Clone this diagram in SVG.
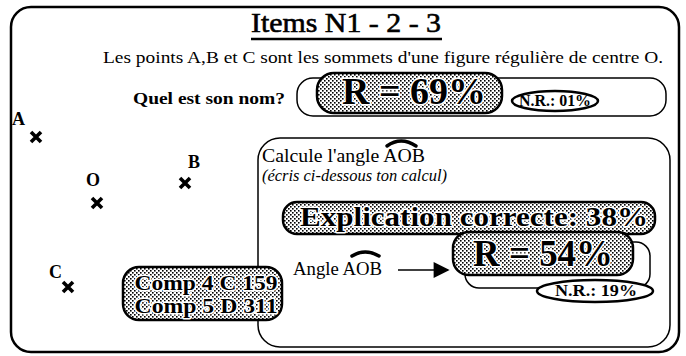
<svg xmlns="http://www.w3.org/2000/svg" width="686" height="356" viewBox="0 0 686 356">
<defs>
<pattern id="dots" width="4" height="4" patternUnits="userSpaceOnUse">
<rect width="4" height="4" fill="#fff"/>
<rect x="0" y="0" width="1.6" height="1.6" fill="#000"/>
<rect x="2" y="2" width="1.6" height="1.6" fill="#000"/>
</pattern>
<marker id="arr" viewBox="0 0 10 10" refX="9" refY="5" markerWidth="20" markerHeight="16" markerUnits="userSpaceOnUse" orient="auto">
<path d="M0,0 L10,5 L0,10 Z" fill="#000"/>
</marker>
</defs>
<style>
.ser{font-family:"Liberation Serif","Times New Roman",serif;fill:#000}
.b{font-weight:bold}
.frame{fill:none;stroke:#000;stroke-width:2.5}
.thin{fill:none;stroke:#000;stroke-width:1.5}
.hat{fill:none;stroke:#000;stroke-width:3.5;stroke-linecap:round}
.box{fill:url(#dots);stroke:#000;stroke-width:2.5}
.halo{paint-order:stroke;stroke:#fff;stroke-width:3;stroke-linejoin:round}
.ell{fill:#fff;stroke:#000;stroke-width:2.5}
.x{stroke:#000;stroke-width:3.6;stroke-linecap:butt}
</style>
<rect id="frame" x="11" y="7" width="668" height="345" rx="20" class="frame"/>
<g id="title">
<text x="346" y="32" text-anchor="middle" class="ser" font-size="28" textLength="190" lengthAdjust="spacingAndGlyphs" stroke="#000" stroke-width="0.6">Items N1 - 2 - 3</text>
<line x1="251" y1="39" x2="442" y2="39" stroke="#000" stroke-width="2.5"/>
</g>
<text id="statement" x="103" y="63" class="ser" font-size="17" textLength="560" lengthAdjust="spacingAndGlyphs">Les points A,B et C sont les sommets d'une figure régulière de centre O.</text>
<text id="question" x="133" y="104" class="ser b" font-size="17" textLength="152" lengthAdjust="spacingAndGlyphs">Quel est son nom?</text>
<g id="q1">
<rect x="297" y="78" width="369" height="38" rx="16" class="thin"/>
<rect x="317" y="73" width="185" height="40" rx="17" class="box"/>
<text x="414" y="104" text-anchor="middle" class="ser b halo" font-size="38" textLength="144" lengthAdjust="spacingAndGlyphs">R = 69%</text>
<ellipse cx="555" cy="101" rx="43" ry="10" class="ell"/>
<text x="555" y="106" text-anchor="middle" class="ser b" font-size="16" textLength="72" lengthAdjust="spacingAndGlyphs">N.R.: 01%</text>
</g>
<g id="points">
<text x="12" y="125" class="ser b" font-size="18">A</text>
<path d="M31,132 L41,142 M41,132 L31,142" class="x"/>
<text x="188" y="168" class="ser b" font-size="18">B</text>
<path d="M180,178 L190,188 M190,178 L180,188" class="x"/>
<text x="86" y="186" class="ser b" font-size="18">O</text>
<path d="M92,198 L102,208 M102,198 L92,208" class="x"/>
<text x="49" y="278" class="ser b" font-size="18">C</text>
<path d="M63,282 L73,292 M73,282 L63,292" class="x"/>
</g>
<g id="q2">
<rect x="258" y="138" width="412" height="209" rx="22" class="thin"/>
<text x="262" y="162" class="ser" font-size="18" textLength="163" lengthAdjust="spacingAndGlyphs">Calcule l'angle AOB</text>
<path d="M387,146 Q401,136 416,146" class="hat"/>
<text x="262" y="181" class="ser" font-size="16" font-style="italic" textLength="185" lengthAdjust="spacingAndGlyphs">(écris ci-dessous ton calcul)</text>
<rect x="283" y="202" width="372" height="32" rx="14" class="box"/>
<text x="474" y="226" text-anchor="middle" class="ser b halo" font-size="28" textLength="348" lengthAdjust="spacingAndGlyphs">Explication correcte: 38%</text>
<rect x="465" y="242" width="185" height="46" rx="14" class="thin"/>
<rect x="453" y="232" width="180" height="43" rx="16" class="box"/>
<text x="543" y="266" text-anchor="middle" class="ser b halo" font-size="37" textLength="140" lengthAdjust="spacingAndGlyphs">R = 54%</text>
<ellipse cx="595" cy="291" rx="58" ry="11" class="ell"/>
<text x="596" y="296" text-anchor="middle" class="ser b" font-size="16" textLength="82" lengthAdjust="spacingAndGlyphs">N.R.: 19%</text>
<text x="293" y="275" class="ser" font-size="18" textLength="89" lengthAdjust="spacingAndGlyphs">Angle AOB</text>
<path d="M352,256 Q365,248 379,256" class="hat"/>
</g>
<g id="connectors">
<line x1="398" y1="270" x2="448" y2="270" stroke="#000" stroke-width="1.5" marker-end="url(#arr)"/>
</g>
<g id="comp">
<rect x="123" y="267" width="159" height="53" rx="16" class="box"/>
<text x="206" y="290" text-anchor="middle" class="ser b halo" font-size="22" textLength="143" lengthAdjust="spacingAndGlyphs">Comp 4 C 159</text>
<text x="206" y="313" text-anchor="middle" class="ser b halo" font-size="22" textLength="143" lengthAdjust="spacingAndGlyphs">Comp 5 D 311</text>
</g>
</svg>
